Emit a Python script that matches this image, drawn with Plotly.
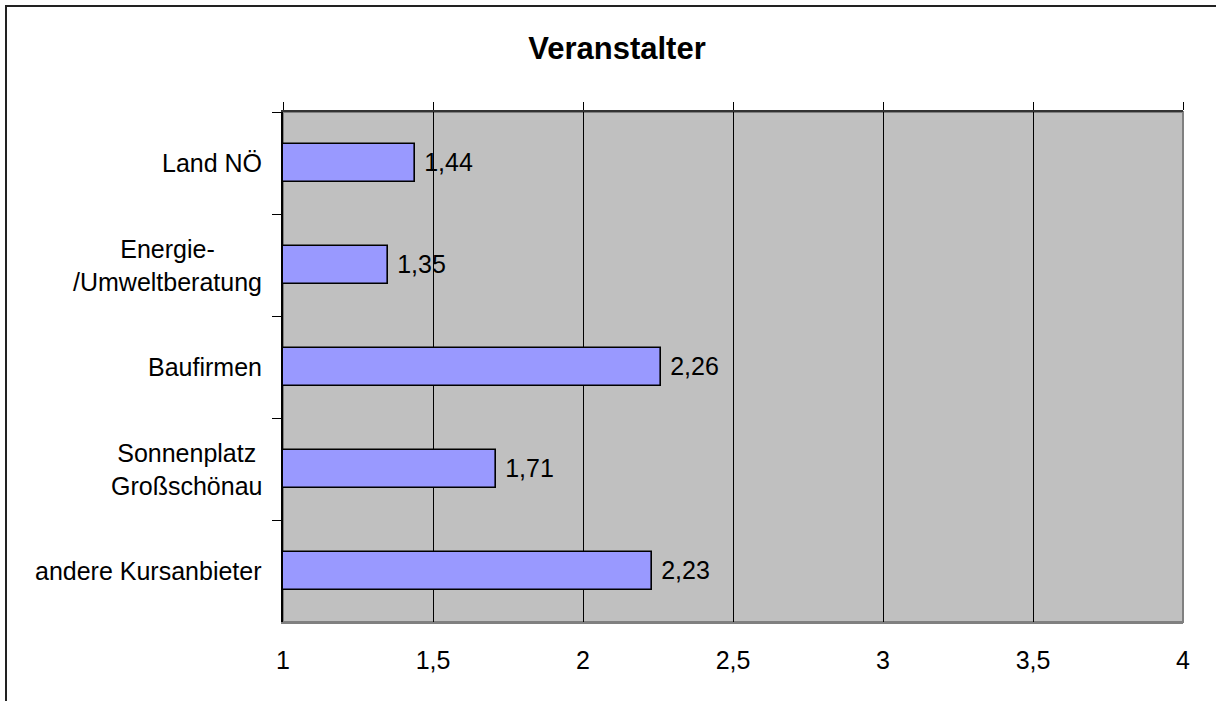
import plotly.graph_objects as go

# --------------------------------------------------------------
# Data
# --------------------------------------------------------------
categories = [
    "Land NÖ",
    "Energie-<br>/Umweltberatung",
    "Baufirmen",
    "Sonnenplatz<br>Großschönau",
    "andere Kursanbieter",
]
values = [1.44, 1.35, 2.26, 1.71, 2.23]
x_ticks = [1, 1.5, 2, 2.5, 3, 3.5, 4]

FONT = "Arial, Liberation Sans, sans-serif"
W, H = 1216, 701
# plot area in window pixels
PX0, PX1, PY0, PY1 = 283, 1183, 112, 622
L, T = PX0, PY0
R, B = W - PX1, H - PY1

fig = go.Figure()

fig.add_trace(go.Bar(
    x=values,
    y=categories,
    orientation="h",
    width=0.38,
    marker=dict(color="#9999FF", line=dict(color="black", width=1.6)),
    texttemplate=" %{x:.2f}",
    textposition="outside",
    textfont=dict(family=FONT, size=25, color="black"),
    cliponaxis=False,
    hoverinfo="skip",
))

# invisible trace to carry the top axis (tick marks only)
fig.add_trace(go.Scatter(
    x=values, y=categories, xaxis="x2",
    mode="markers", marker=dict(opacity=0),
    hoverinfo="skip", showlegend=False,
))

# category labels, centred lines like the original
for cat in categories:
    fig.add_annotation(
        x=0, xref="paper", y=cat, yref="y",
        text=cat, showarrow=False,
        xanchor="right", xshift=-19, align="center",
        font=dict(family=FONT, size=25, color="black"),
    )

pw = PX1 - PX0
ph = PY1 - PY0
# outer chart frame (runs off the right / bottom edge)
fig.add_shape(
    type="rect", xref="paper", yref="paper",
    x0=(6 - PX0) / pw, x1=(1240 - PX0) / pw,
    y0=(PY1 - 720) / ph, y1=(PY1 - 6) / ph,
    line=dict(color="#222", width=2), layer="above",
)
# plot area border
fig.add_shape(
    type="rect", xref="paper", yref="paper",
    x0=0, x1=1, y0=0, y1=1,
    line=dict(color="#808080", width=2), layer="below",
)

fig.update_layout(
    width=W, height=H,
    margin=dict(l=L, r=R, t=T, b=B),
    paper_bgcolor="white",
    plot_bgcolor="#C0C0C0",
    separators=",.",
    showlegend=False,
    bargap=0,
    title=dict(
        text="<b>Veranstalter</b>",
        x=617 / W, xref="container", xanchor="center",
        y=1 - 48 / H, yref="container", yanchor="middle",
        font=dict(family=FONT, size=31, color="black"),
    ),
    xaxis=dict(
        range=[1, 4], tickvals=x_ticks, tickformat=".1~f",
        showgrid=True, gridcolor="black", gridwidth=1,
        ticks="", ticklabelstandoff=15,
        showline=True, linecolor="#808080", linewidth=2,
        zeroline=False,
        tickfont=dict(family=FONT, size=25, color="black"),
    ),
    xaxis2=dict(
        overlaying="x", side="top", anchor="y",
        range=[1, 4], tickvals=x_ticks,
        showgrid=False, showticklabels=False,
        ticks="outside", ticklen=8, tickcolor="black", tickwidth=1,
        showline=True, linecolor="#333", linewidth=2,
        zeroline=False,
    ),
    yaxis=dict(
        autorange="reversed",
        showticklabels=False,
        tickson="boundaries", ticks="outside", ticklen=9,
        tickcolor="black", tickwidth=1,
        showline=True, linecolor="black", linewidth=1.5,
        showgrid=False,
    ),
)

# drop the page's default body margin so the figure sits at (0, 0)
fig.write_html(
    "out.html",
    config={"displayModeBar": False},
    post_script="document.body.style.margin='0';document.body.style.overflow='hidden';",
)
